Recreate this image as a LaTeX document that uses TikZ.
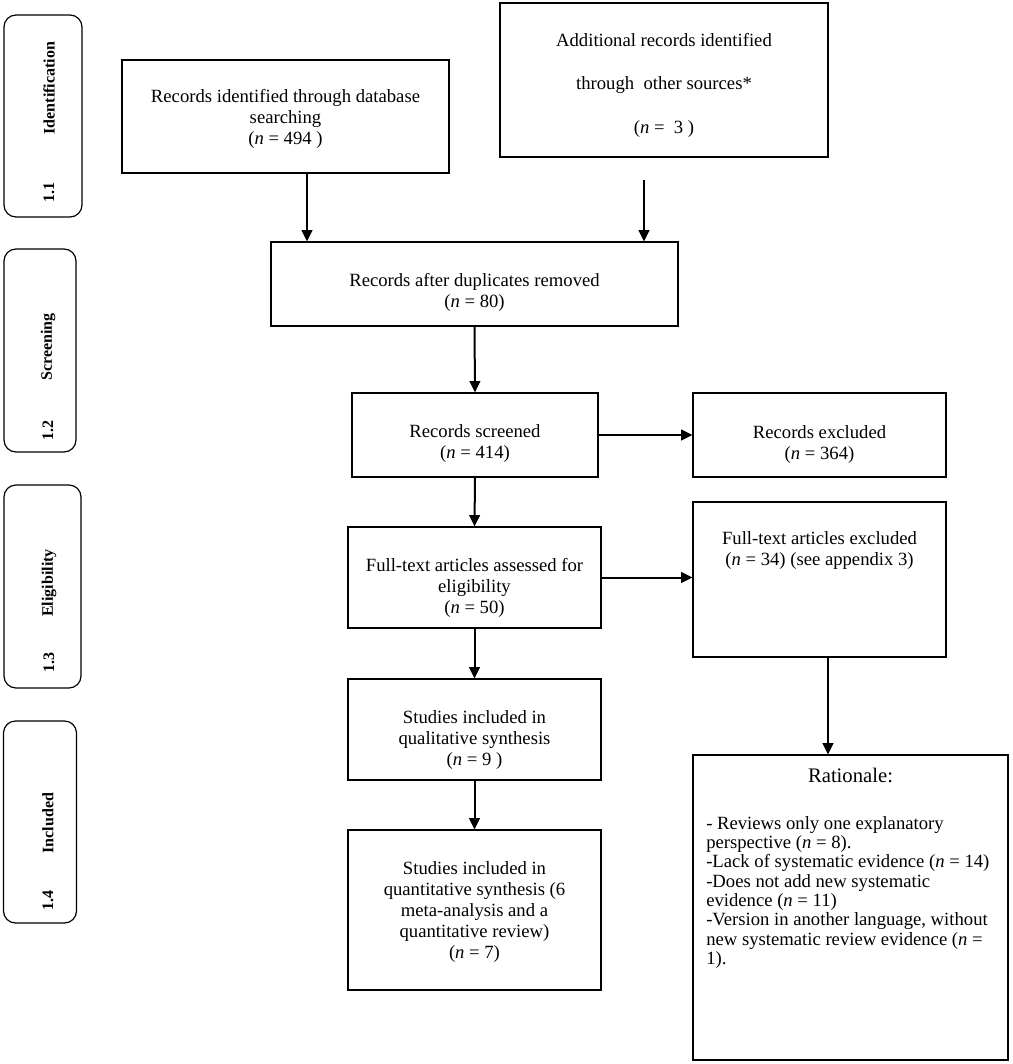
\documentclass[tikz,border=0pt]{standalone}
\usepackage{fontspec}
\setmainfont{Liberation Serif}
\usetikzlibrary{arrows.meta}
\begin{document}
\begin{tikzpicture}[x=0.75pt,y=-0.75pt,
  box/.style={draw, line width=0.9pt, inner sep=0pt},
  txt/.style={inner sep=0pt, align=center, font=\fontsize{14}{15.75}\selectfont},
  side/.style={draw, line width=0.9pt, rounded corners=9pt, inner sep=0pt},
  sidetxt/.style={rotate=90, font=\bfseries\fontsize{12}{14}\selectfont, inner sep=0pt},
  arr/.style={line width=1.5pt, -{Triangle[width=8pt,length=8.5pt]}}]
\useasboundingbox (0,0) rectangle (1013,1064);

% side labels
\node[side, minimum width=58.5pt, minimum height=151.5pt] (s1) at (43,116) {};
\node[side, minimum width=54pt, minimum height=152.25pt] (s2) at (40,350.5) {};
\node[side, minimum width=57.75pt, minimum height=152.25pt] (s3) at (42.5,586.5) {};
\node[side, minimum width=54.75pt, minimum height=151.5pt] (s4) at (40,822) {};
\node[sidetxt] (s1a) at (49,88) {Identification};
\node[sidetxt] (s1b) at (49,192) {1.1};
\node[sidetxt] (s2a) at (48,347) {Screening};
\node[sidetxt] (s2b) at (48,430) {1.2};
\node[sidetxt] (s3a) at (49,583) {Eligibility};
\node[sidetxt] (s3b) at (49,662) {1.3};
\node[sidetxt] (s4a) at (48,823) {Included};
\node[sidetxt] (s4b) at (48,900) {1.4};

% main boxes
\node[box, minimum width=245.25pt, minimum height=84.75pt] (db) at (285.5,116.5) {};
\node[txt] (dbT) at (285.5,119)
  {Records identified through database\\searching\\(\textit{n} = 494 )};
\node[box, minimum width=246pt, minimum height=115.5pt] (add) at (664,80) {};
\node[txt, font=\fontsize{14}{32.6}\selectfont] (addT) at (664,85)
  {Additional records identified\\through\ \ other sources*\\(\textit{n} =\ \ 3 )};
\node[box, minimum width=305.25pt, minimum height=63pt] (dup) at (474.5,284) {};
\node[txt] (dupT) at (474.5,292) {Records after duplicates removed\\(\textit{n} = 80)};
\node[box, minimum width=184.5pt, minimum height=63pt] (scr) at (475,435) {};
\node[txt] (scrT) at (475,443.5) {Records screened\\(\textit{n} = 414)};
\node[box, minimum width=189.75pt, minimum height=63pt] (exc) at (819.5,435) {};
\node[txt] (excT) at (819.5,444.5) {Records excluded\\(\textit{n} = 364)};
\node[box, minimum width=189.75pt, minimum height=75.75pt] (fta) at (474.5,577.5) {};
\node[txt] (ftaT) at (474.5,588)
  {Full-text articles assessed for\\eligibility\\(\textit{n} = 50)};
\node[box, minimum width=189.75pt, minimum height=116.25pt] (fte) at (819.5,579.5) {};
\node[txt, anchor=north] (fteT) at (819.5,531.5)
  {Full-text articles excluded\\(\textit{n} = 34) (see appendix 3)};
\node[box, minimum width=189.75pt, minimum height=75.75pt] (qual) at (474.5,729.5) {};
\node[txt] (qualT) at (474.5,740.5)
  {Studies included in\\qualitative synthesis\\(\textit{n} = 9 )};
\node[box, minimum width=189.75pt, minimum height=120pt] (quant) at (474.5,910) {};
\node[txt] (quantT) at (474.5,911.5)
  {Studies included in\\quantitative synthesis (6\\meta-analysis and a\\quantitative review)\\(\textit{n} = 7)};
\node[box, minimum width=236.25pt, minimum height=228.75pt] (rat) at (850.5,907.5) {};
\node[txt, font=\fontsize{15.5}{17}\selectfont] (ratT) at (850.5,775) {Rationale:};
\node[txt, align=left, anchor=north west, font=\fontsize{14}{14.5}\selectfont] (ratL) at (706,816)
  {- Reviews only one explanatory\\
   perspective (\textit{n} = 8).\\
   -Lack of systematic evidence (\textit{n} = 14)\\
   -Does not add new systematic\\
   evidence (\textit{n} = 11)\\
   -Version in another language, without\\
   new systematic review evidence (\textit{n} =\\
   1).};

% connectors
\coordinate (a1) at (307,0);
\coordinate (a2) at (644,180);
\coordinate (a3) at (828,0);
\draw[arr] (db.south -| a1) -- (dup.north -| a1);
\draw[arr] (a2) -- (dup.north -| a2);
\draw[arr] (dup.south) -- (scr.north);
\draw[arr] (scr.east) -- (exc.west);
\draw[arr] (scr.south) -- (fta.north);
\draw[arr] (fta.east) -- (fta.east -| fte.west);
\draw[arr] (fta.south) -- (qual.north);
\draw[arr] (qual.south) -- (quant.north);
\draw[arr] (fte.south -| a3) -- (rat.north -| a3);
\end{tikzpicture}
\end{document}
